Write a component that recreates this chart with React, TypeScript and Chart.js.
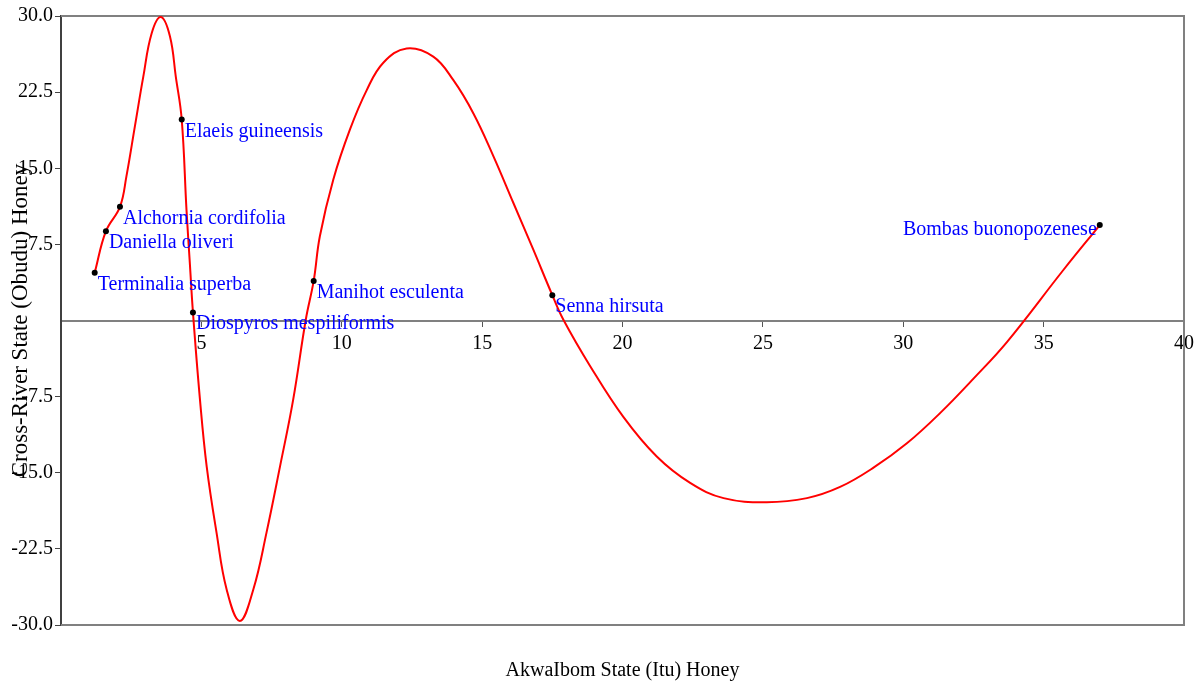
import React, { useEffect, useRef } from "react";
import { Chart, registerables } from "chart.js";

Chart.register(...registerables);

// Species (points) — AkwaIbom State (Itu) Honey vs Cross-River State (Obudu) Honey
const speciesNames = [
  "Terminalia superba",
  "Daniella oliveri",
  "Alchornia cordifolia",
  "Elaeis guineensis",
  "Diospyros mespiliformis",
  "Manihot esculenta",
  "Senna hirsuta",
  "Bombas buonopozenese",
];
const ituValues = [1.2, 1.6, 2.1, 4.3, 4.7, 9.0, 17.5, 37.0];
const obuduValues = [4.7, 8.8, 11.2, 19.8, 0.8, 3.9, 2.5, 9.4];

// Fitted curve
const curveX = [
  1.2, 1.6, 2.1, 2.33, 2.63, 2.93, 3.23, 3.56, 3.88, 4.09, 4.3, 4.47, 4.59, 4.7,
  4.95, 5.19, 5.54, 5.9, 6.37, 6.85, 7.32, 7.8, 8.27, 8.72, 9.0, 9.22, 9.7,
  10.29, 10.89, 11.48, 12.31, 13.26, 13.97, 14.69, 15.4, 16.11, 16.82, 17.5,
  17.89, 18.85, 20.03, 21.22, 22.41, 23.6, 25.14, 26.57, 27.75, 28.94, 30.13,
  31.32, 32.51, 33.7, 35.71, 37.0,
];
const curveY = [
  4.7, 8.8, 11.2, 14.2, 19.1, 24.0, 28.3, 29.9, 28.0, 24.0, 19.8, 10.9, 5.6, 0.8,
  -7.8, -14.4, -20.9, -26.5, -29.6, -26.5, -20.9, -14.4, -7.8, 0.1, 3.9, 8.3,
  13.9, 18.8, 22.7, 25.4, 26.8, 26.0, 23.7, 20.4, 16.2, 11.6, 7.0, 2.5, 0.1,
  -4.5, -9.5, -13.4, -16.0, -17.5, -17.9, -17.5, -16.4, -14.5, -12.1, -9.1,
  -5.7, -2.1, 5.0, 9.4,
];

const xTickValues = [5, 10, 15, 20, 25, 30, 35, 40];
const yTickValues = [-30, -22.5, -15, -7.5, 7.5, 15, 22.5, 30];

const xTitle = "AkwaIbom State (Itu) Honey";
const yTitle = "Cross-River State (Obudu) Honey";

const FAMILY = "'Liberation Serif', 'Times New Roman', serif";

const framePlugin = {
  id: "frameAndLabels",
  beforeDatasetsDraw(chart: any) {
    const { ctx, chartArea } = chart;
    const { left, right, top, bottom } = chartArea;
    ctx.save();
    ctx.strokeStyle = "#808080";
    ctx.lineWidth = 2;
    ctx.beginPath();
    ctx.moveTo(left, top);
    ctx.lineTo(right, top);
    ctx.lineTo(right, bottom);
    ctx.lineTo(left, bottom);
    ctx.stroke();
    ctx.restore();
  },
  afterDatasetsDraw(chart: any) {
    const { ctx } = chart;
    const meta = chart.getDatasetMeta(0);
    ctx.save();
    ctx.font = `20px ${FAMILY}`;
    ctx.fillStyle = "#0000ff";
    ctx.textBaseline = "alphabetic";
    meta.data.forEach((el: any, i: number) => {
      const name = speciesNames[i];
      if (i === speciesNames.length - 1) {
        ctx.textAlign = "right";
        ctx.fillText(name, el.x - 3, el.y + 10);
      } else {
        ctx.textAlign = "left";
        ctx.fillText(name, el.x + 3, el.y + 17);
      }
    });
    ctx.restore();
  },
};

export default function App() {
  const canvasRef = useRef<HTMLCanvasElement | null>(null);

  useEffect(() => {
    if (!canvasRef.current) return;
    Chart.defaults.font.family = FAMILY;
    const tickFont = { family: FAMILY, size: 20 };

    const chart = new Chart(canvasRef.current, {
      type: "scatter",
      data: {
        datasets: [
          {
            label: "species",
            data: ituValues.map((x, i) => ({ x, y: obuduValues[i] })),
            pointRadius: 3,
            pointBackgroundColor: "#000000",
            pointBorderColor: "#000000",
            pointBorderWidth: 0,
            showLine: false,
            clip: false as any,
            order: 0,
          },
          {
            label: "curve",
            data: curveX.map((x, i) => ({ x, y: curveY[i] })),
            showLine: true,
            borderColor: "#ff0000",
            borderWidth: 2,
            pointRadius: 0,
            fill: false,
            tension: 0.4,
            order: 1,
          } as any,
        ],
      },
      options: {
        animation: false,
        responsive: false,
        layout: { padding: { left: 0, top: 16, right: 18, bottom: 0 } },
        plugins: {
          legend: { display: false },
          tooltip: { enabled: false },
        },
        scales: {
          x: {
            type: "linear",
            position: { y: 0 } as any,
            min: 0,
            max: 40,
            afterBuildTicks: (s: any) => {
              s.ticks = xTickValues.map((v) => ({ value: v }));
            },
            grid: {
              display: true,
              drawOnChartArea: false,
              drawTicks: true,
              tickLength: 5,
              tickColor: "#555555",
            },
            border: { display: true, color: "#808080", width: 2 },
            ticks: {
              font: tickFont,
              color: "#000000",
              padding: 6,
              maxRotation: 0,
              autoSkip: false,
              callback: (v: any) => String(v),
            },
          },
          x2: {
            type: "linear",
            axis: "x",
            position: "bottom",
            min: 0,
            max: 40,
            grid: { display: false, drawTicks: false },
            border: { display: false },
            ticks: { display: false },
            title: {
              display: true,
              text: xTitle,
              font: { family: FAMILY, size: 20 },
              color: "#000000",
              padding: { top: 0, bottom: 3 },
            },
            afterFit: (s: any) => {
              s.height = 61;
            },
          } as any,
          y: {
            type: "linear",
            position: "left",
            min: -30,
            max: 30,
            afterBuildTicks: (s: any) => {
              s.ticks = yTickValues.map((v) => ({ value: v }));
            },
            afterFit: (s: any) => {
              s.width = 61;
            },
            grid: {
              display: true,
              drawOnChartArea: false,
              drawTicks: true,
              tickLength: 6,
              tickColor: "#444444",
            },
            border: { display: true, color: "#404040", width: 2 },
            ticks: {
              font: tickFont,
              color: "#000000",
              padding: 2,
              autoSkip: false,
              callback: (v: any) => Number(v).toFixed(1),
            },
            title: {
              display: true,
              text: yTitle,
              font: { family: FAMILY, size: 23 },
              color: "#000000",
              padding: { top: 7, bottom: 0 },
            },
          },
        },
      },
      plugins: [framePlugin],
    });

    return () => {
      chart.destroy();
    };
  }, []);

  return (
    <div style={{ position: "absolute", left: 0, top: 0, width: 1202, height: 686, background: "#ffffff" }}>
      <canvas ref={canvasRef} width={1202} height={686} />
    </div>
  );
}
